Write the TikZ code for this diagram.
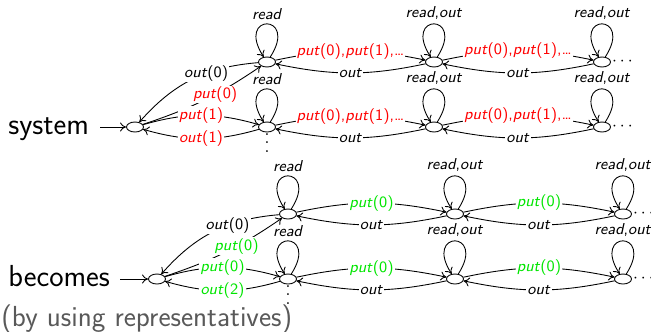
\documentclass[tikz,border=0pt]{standalone}
\usepackage{tikz}
\usetikzlibrary{shapes.geometric,arrows.meta}
\definecolor{putred}{HTML}{FF0000}
\definecolor{putgreen}{HTML}{00E600}
\definecolor{note}{HTML}{595959}
\newcommand{\act}[1]{\textit{#1}}
\newcommand{\vdts}{\vbox{\baselineskip=4.8pt\lineskiplimit=0pt\hbox{.}\hbox{.}\hbox{.}}}
\tikzset{
  loc/.style={draw, ellipse, minimum width=3.4mm, minimum height=2mm, inner sep=0pt, line width=0.5pt},
  tr/.style={-{To[length=1.2mm,width=1.8mm]}, line width=0.5pt},
  lab/.style={fill=white, inner sep=0.6pt, font=\fontsize{9}{10}\selectfont\sffamily},
  looplab/.style={above, inner sep=2pt, font=\fontsize{9}{10}\selectfont\sffamily},
  big/.style={inner sep=0pt, font=\fontsize{17.3}{20}\selectfont\sffamily},
  more/.style={inner sep=0.5pt, font=\fontsize{10}{12}\selectfont},
  every loop/.style={min distance=10.5mm},
  selfloop/.style={out=57, in=123, loop},
}
\begin{document}
\begin{tikzpicture}[x=0.2mm, y=-0.2mm]
  \useasboundingbox (0,0) rectangle (651,331);
  \clip (0,0) rectangle (651,331);

  % upper automaton: the system itself
  \node[big, anchor=base west] (sys) at (8,134) {system};
  \coordinate (sysin) at (100,127);
  \node[loc] (s0)  at (135,127) {};
  \node[loc] (s11) at (267,62)  {};
  \node[loc] (s12) at (434,62)  {};
  \node[loc] (s13) at (602,62)  {};
  \node[loc] (s21) at (267,127) {};
  \node[loc] (s22) at (434,127) {};
  \node[loc] (s23) at (602,127) {};

  % lower automaton: one representative per class
  \node[big, anchor=base west] (bec) at (8,286) {becomes};
  \node[big, anchor=base west, text=note, font=\fontsize{16.5}{20}\selectfont\sffamily] (rep) at (1,326) {(by using representatives)};
  \coordinate (becin) at (120,279);
  \node[loc] (r0)  at (157,279) {};
  \node[loc] (r11) at (288,214) {};
  \node[loc] (r12) at (455,214) {};
  \node[loc] (r13) at (623,214) {};
  \node[loc] (r21) at (288,279) {};
  \node[loc] (r22) at (455,279) {};
  \node[loc] (r23) at (623,279) {};

  \draw[tr] (sysin) -- (s0);
  \draw[tr] (becin) -- (r0);

  % self loops
  \foreach \n in {s11,s21,r11,r21}
    \path[tr] (\n) edge[selfloop] node[looplab] {\act{read}} (\n);
  \foreach \n in {s12,s13,s22,s23,r12,r13,r22,r23}
    \path[tr] (\n) edge[selfloop] node[looplab] {\act{read},\act{out}} (\n);

  % the rows go on to the right and downwards
  \foreach \n in {s13,s23,r13,r23}
    \node[more, anchor=west] (\n-more) at (\n.east) {$\cdots$};
  \foreach \n in {s21,r21}
    \node[more, anchor=north] (\n-down) at (\n.south) {\vdts};

  % moves along a row
  \foreach \a/\b in {s11/s12,s12/s13,s21/s22,s22/s23}
    \path[tr] (\a) edge[bend left=12] node[lab, text=putred] {\act{put}(0),\act{put}(1),\dots} (\b)
              (\b) edge[bend left=12] node[lab] {\act{out}} (\a);
  \foreach \a/\b in {r11/r12,r12/r13,r21/r22,r22/r23}
    \path[tr] (\a) edge[bend left=12] node[lab, text=putgreen] {\act{put}(0)} (\b)
              (\b) edge[bend left=12] node[lab] {\act{out}} (\a);

  % first moves from the initial states
  \path[tr] (s0)  edge[bend right=8]  node[lab, text=putred, pos=.6] {\act{put}(0)} (s11)
            (s11) edge[bend right=22] node[lab, pos=.38] {\act{out}(0)} (s0)
            (s0)  edge[bend left=16]  node[lab, text=putred] {\act{put}(1)} (s21)
            (s21) edge[bend left=16]  node[lab, text=putred] {\act{out}(1)} (s0);
  \path[tr] (r0)  edge[bend right=8]  node[lab, text=putgreen, pos=.6] {\act{put}(0)} (r11)
            (r11) edge[bend right=22] node[lab, pos=.38] {\act{out}(0)} (r0)
            (r0)  edge[bend left=16]  node[lab, text=putgreen] {\act{put}(0)} (r21)
            (r21) edge[bend left=16]  node[lab, text=putgreen] {\act{out}(2)} (r0);
\end{tikzpicture}
\end{document}
